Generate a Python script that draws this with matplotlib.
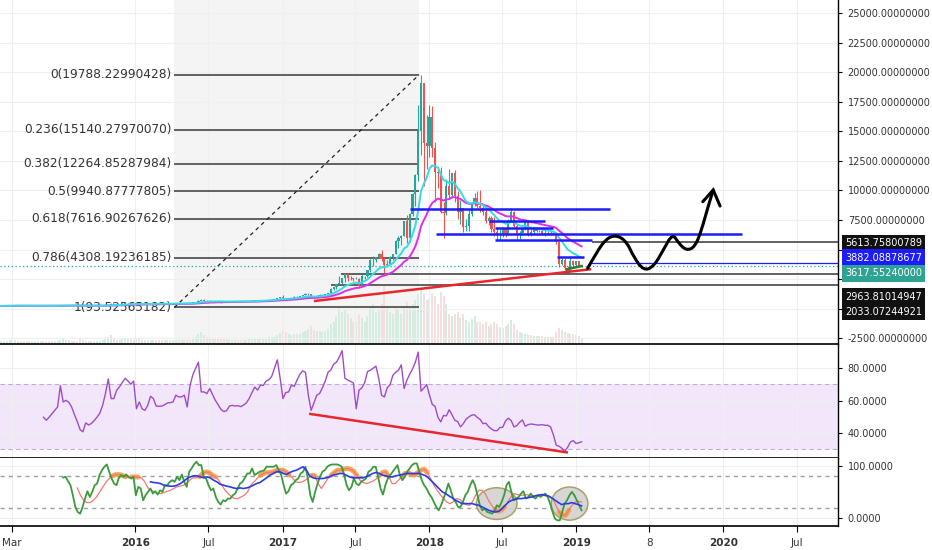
"""BTCUSD weekly chart with fib retracement, RSI and stochastic panes."""

import matplotlib

matplotlib.use("Agg")
import matplotlib.dates as mdates
import matplotlib.pyplot as plt
import matplotlib.transforms as mtransforms
import numpy as np
import pandas as pd
from matplotlib.patches import Ellipse, PathPatch
from matplotlib.path import Path

plt.rcParams["font.family"] = ["DejaVu Sans"]

# ---- weekly candles (week starting 2015-02-02) ----
FIRST_WEEK = "2015-02-02"
FIRST_OPEN = 221.0

closes = [
    # 2015
    227, 234, 237, 254, 276, 285, 260, 247, 254, 236, 222, 226, 234,
    241, 237, 240, 230, 226, 233, 245, 250, 270, 292, 279, 289, 284,
    266, 260, 228, 228, 240, 230, 231, 235, 240, 247, 262, 285, 325,
    380, 330, 325, 357, 390, 433, 460, 420, 430,
    # 2016
    448, 380, 392, 370, 375, 405, 440, 430, 412, 415, 410, 416, 420,
    420, 430, 460, 445, 458, 455, 440, 530, 580, 680, 760, 665, 680,
    650, 665, 660, 625, 590, 570, 580, 575, 605, 610, 608, 600, 615,
    618, 640, 655, 700, 705, 700, 730, 735, 765, 770, 790, 900, 1000,
    # 2017
    900, 830, 920, 920, 1020, 1000, 1050, 1180, 1230, 1240, 970, 960, 1090,
    1180, 1180, 1250, 1350, 1700, 1800, 2050, 2200, 2550, 2950, 2550, 2600, 2500,
    2500, 1900, 2750, 2750, 3250, 4100, 4100, 4350, 4600, 4200, 3700, 3800, 4400,
    4600, 5700, 6000, 6150, 7400, 5950, 8000, 9700, 11300, 15000, 19100, 14000, 13800,
    # 2018
    16200, 13600, 11600, 11500, 8200, 8100, 10400, 9600, 11500, 9500, 8200, 8500, 6900,
    7000, 8000, 8900, 9400, 8700, 8500, 8200, 7400, 7700, 6700, 6450, 6200, 6350,
    6750, 6350, 7400, 8200, 7000, 6300, 6400, 6700, 7300, 6250, 6500, 6700, 6600,
    6600, 6300, 6400, 6350, 6400, 6300, 5600, 3800, 4100, 3400, 3200, 4000, 3700, 4000,
    # 2019
    3550, 3617.5524,
]

highs = [
    240, 244, 245, 262, 300, 298, 290, 270, 262, 260, 240, 236, 240,
    246, 245, 246, 242, 232, 237, 252, 256, 275, 315, 300, 300, 296,
    290, 272, 268, 237, 242, 245, 240, 240, 244, 250, 264, 290, 330,
    500, 390, 340, 360, 390, 435, 470, 460, 437,
    460, 450, 400, 395, 385, 410, 445, 445, 441, 420, 418, 420, 425,
    424, 434, 463, 468, 466, 462, 458, 535, 580, 700, 780, 780, 705,
    705, 680, 685, 666, 625, 600, 590, 590, 606, 625, 614, 611, 619,
    621, 645, 660, 700, 740, 745, 740, 750, 765, 777, 792, 905, 1000,
    1150, 915, 925, 940, 1025, 1030, 1060, 1190, 1280, 1290, 1240, 1060, 1095,
    1200, 1205, 1255, 1355, 1750, 1830, 2100, 2800, 2600, 3000, 3000, 2780, 2620,
    2660, 2590, 2900, 2790, 3300, 4200, 4485, 4380, 4740, 4975, 4380, 4125, 4470,
    4600, 5850, 6150, 6200, 7450, 7900, 8100, 9750, 11400, 17200, 19788, 19100, 16400,
    17250, 17150, 14100, 12000, 12000, 9000, 10950, 11800, 11500, 11700, 9950, 9200, 8500,
    7550, 8400, 9000, 9750, 9950, 10000, 8880, 8450, 7800, 7800, 7750, 6850, 6700,
    6800, 6800, 7600, 8500, 8300, 7150, 6600, 6700, 7400, 7400, 6700, 6800, 6820,
    6650, 6670, 6800, 6550, 6550, 6490, 6390, 5600, 4250, 4280, 3600, 4330, 4150, 4060,
    4070, 3720,
]

lows = [
    216, 218, 228, 235, 252, 265, 255, 240, 242, 232, 218, 220, 224,
    232, 233, 232, 228, 222, 224, 230, 242, 248, 262, 262, 270, 282,
    262, 256, 200, 210, 226, 228, 227, 228, 233, 237, 245, 260, 282,
    322, 300, 315, 322, 355, 380, 430, 410, 418,
    425, 365, 370, 365, 365, 370, 405, 425, 410, 405, 405, 406, 410,
    414, 418, 426, 443, 444, 448, 436, 438, 527, 570, 670, 555, 610,
    632, 640, 654, 620, 480, 565, 566, 570, 572, 600, 604, 592, 595,
    608, 612, 633, 650, 690, 680, 694, 728, 728, 757, 763, 790, 890,
    760, 760, 830, 880, 905, 980, 990, 1040, 1170, 1150, 950, 895, 930,
    1080, 1145, 1170, 1245, 1340, 1580, 1700, 2060, 2090, 2280, 2300, 2400, 2340,
    2480, 1840, 1900, 2490, 2660, 3100, 3600, 3970, 4300, 4050, 3000, 3560, 3760,
    4150, 4600, 5150, 5350, 6150, 5550, 5650, 7800, 8650, 10800, 13000, 10400, 11800,
    12850, 12800, 9000, 10200, 8100, 5950, 7900, 9300, 9400, 9000, 7600, 7200, 6450,
    6550, 6600, 7820, 8650, 8500, 8200, 7950, 7250, 7050, 6500, 6150, 5800, 5800,
    6100, 6100, 6250, 7400, 6900, 5880, 5880, 6250, 6670, 6150, 6170, 6270, 6450,
    6480, 6200, 6170, 6300, 6250, 6300, 5450, 3550, 3700, 3260, 3150, 3200, 3550, 3630,
    3500, 3530,
]

volumes = [
    3, 3, 3, 4, 4, 4, 3, 3, 3, 3, 3, 3, 3, 3, 3, 3, 3, 3, 3, 3, 3, 4,
    5, 4, 4, 3, 3, 3, 5, 4, 3, 3, 3, 3, 3, 3, 4, 5, 7, 9, 6, 4, 4, 5, 6, 6, 5, 4,
    6, 5, 4, 4, 4, 4, 4, 4, 4, 4, 4, 4, 4, 4, 4, 4, 4, 4, 4, 4, 6, 7,
    10, 12, 9, 7, 6, 6, 5, 5, 6, 5, 5, 4, 4, 4, 4, 4, 4, 4, 5, 6, 6, 6,
    6, 6, 6, 7, 7, 7, 9, 11,
    14, 12, 10, 9, 10, 10, 10, 12, 13, 15, 18, 14, 13, 13, 12, 13, 15,
    20, 22, 28, 38, 32, 35, 30, 26, 22, 22, 30, 26, 22, 28, 38, 40, 32, 34,
    40, 60, 38, 32, 30, 36, 34, 30, 38, 42, 36, 40, 44, 50, 56, 50, 44,
    45, 50, 48, 40, 52, 48, 40, 30, 28, 30, 32, 26, 30, 24, 22, 25, 28, 22,
    22, 20, 22, 18, 20, 22, 20, 17, 16, 18, 20, 24, 20, 14, 12, 11, 10,
    9, 9, 8, 8, 8, 8, 7, 7, 7, 7, 12, 16, 14, 12, 11, 10, 10, 9,
    8, 6,
]
VOL_AXIS_TOP = 344

# ---- RSI (weekly, aligned to the last candles) ----
rsi = [
    49.8, 47.9, 49.8, 51.9, 54.0, 56.1, 69.2, 59.2, 60.2, 59.0,
    56.1, 51.3, 47.1, 42.1, 40.8, 46.3, 45.0, 45.9, 47.7, 49.8,
    52.3, 57.1, 64.4, 73.4, 61.3, 61.3, 66.5, 68.6, 71.3, 73.8,
    72.1, 70.2, 72.1, 55.0, 59.2, 55.0, 54.0, 57.1, 62.7, 61.3,
    56.7, 56.5, 56.7, 57.5, 58.6, 58.8, 59.2, 63.4, 62.3, 62.3,
    63.4, 56.1, 69.2, 75.9, 80.0, 83.8, 65.4, 65.4, 64.4, 67.5,
    63.8, 60.2, 57.5, 54.6, 53.3, 53.8, 56.7, 57.1, 56.7, 56.9,
    56.3, 57.3, 58.6, 61.3, 65.0, 68.4, 66.5, 69.6, 69.4, 72.1,
    72.9, 75.0, 80.0, 85.2, 73.8, 61.3, 65.0, 65.4, 69.6, 68.8,
    72.7, 76.3, 78.4, 77.5, 63.4, 54.0, 58.8, 63.4, 64.4, 67.9,
    72.1, 77.5,
    79.0, 82.5, 83.8, 86.9, 90.9, 73.8, 72.7, 71.9, 70.9, 55.0,
    66.5, 67.9, 71.1, 77.9, 78.8, 80.0, 81.3, 73.8, 63.4, 62.3,
    67.9, 69.8, 75.6, 77.5, 78.8, 82.1, 67.5, 72.7, 76.3, 79.6,
    83.8, 90.0, 65.9, 67.7, 70.0, 63.4, 57.7, 56.5, 49.8, 46.9,
    50.9, 50.6, 54.4, 51.3, 47.9, 47.1, 43.8, 45.8, 48.6, 50.0,
    51.1, 51.3, 49.6, 48.4, 45.8, 46.1, 44.0, 42.5, 41.5, 41.5,
    43.4, 43.6, 47.5, 49.2, 47.7, 43.8, 44.6, 46.7, 48.1, 44.2,
    45.2, 45.6, 45.4, 45.0, 45.0, 45.2, 44.8, 44.8, 43.8, 38.8,
    32.5, 31.9, 30.6, 28.8, 31.1, 34.4, 35.4, 33.6, 34.0, 34.6,
]

# ---- stochastic lines, evenly spaced from their start date to the last week ----
K_START = "2015-07-06"
D_START = "2015-08-10"
SLOW_START = "2016-02-08"

stoch_k = [
    78.0, 79.3, 71.0, 63.2, 43.9, 21.3, 11.6, 8.4, 21.3, 37.4, 51.6, 40.6,
    50.3, 63.2, 66.4, 82.6, 92.2, 98.7, 103.2, 89.0, 76.1, 66.4, 63.2, 77.4,
    82.5, 79.3, 83.8, 79.3, 76.1, 79.3, 43.9, 60.0, 56.8, 34.2, 43.9, 50.3,
    56.8, 47.1, 51.6, 45.1, 53.5, 50.3, 63.2, 63.2, 69.7, 72.9, 69.7, 79.3,
    72.9, 83.8, 69.7, 60.0, 89.0, 95.5, 103.2, 108.4, 101.9, 101.9, 79.3, 76.1,
    63.2, 53.5, 56.8, 40.6, 31.0, 25.8, 34.2, 32.2, 37.4, 37.4, 43.9, 47.1,
    56.8, 66.4, 69.7, 77.4, 85.8, 85.8, 95.5, 82.6, 85.8, 89.0, 90.3, 92.2,
    99.3, 98.7, 98.7, 98.7, 101.9, 92.2, 82.6, 63.2, 47.1, 51.6, 63.2, 66.4,
    72.9, 76.1, 85.8, 89.0, 98.7, 76.1, 43.9, 31.0, 50.3, 66.4, 79.3, 89.0,
    92.2, 98.7, 101.9,
    103.2, 103.2, 103.2, 101.9, 98.7, 82.6, 63.2, 53.5, 60.0, 76.1, 66.4, 63.2,
    69.7, 72.9, 76.1, 89.0, 92.2, 98.7, 98.7, 79.3, 56.8, 45.1, 63.2, 76.1,
    82.6, 89.0, 95.5, 101.9, 82.6, 72.9, 79.3, 89.0, 95.5, 101.9, 105.1, 105.1,
    89.0, 72.9, 63.2, 56.8, 47.1, 40.6, 31.0, 21.3, 14.8, 24.5, 37.4, 50.3,
    66.4, 53.5, 37.4, 31.0, 21.3, 21.3, 31.0, 43.9, 50.3, 63.2, 72.9, 63.2,
    43.9, 24.5, 14.8, 18.1, 11.6, 10.3, 8.4, 12.9, 24.5, 21.3, 31.0, 43.9,
    63.2, 69.7, 50.3, 34.2, 37.4, 40.6, 47.1, 51.6, 37.4, 40.6, 47.1, 40.6,
    37.4, 43.9, 40.6, 43.9, 47.1, 40.6, 27.7, 11.6, -1.3, -4.5, -4.5, 11.6,
    27.7, 34.2, 43.9, 50.3, 43.9, 34.2, 24.5, 14.8,
]

stoch_d = [
    58.0, 43.9, 34.2, 29.7, 29.7, 34.2, 40.6, 50.3, 60.0, 69.7, 76.1, 81.3,
    83.8, 83.8, 82.5, 79.3, 77.4, 79.3, 79.3, 78.7, 77.4, 69.7, 58.0, 53.5,
    50.3, 47.1, 47.1, 49.0, 51.6, 53.5, 56.8, 60.0, 61.3, 63.2, 66.4, 72.9,
    77.4, 77.4, 79.3, 85.8, 89.0, 87.7, 82.5, 79.3, 72.9, 63.2, 53.5, 47.1,
    40.6, 37.4, 37.4, 40.6, 43.9, 50.3, 63.2, 69.7, 76.1, 82.5, 85.8, 87.7,
    87.7, 89.0, 92.2, 92.2, 92.2, 89.0, 82.5, 77.4, 69.7, 68.4, 69.7, 72.9,
    77.4, 82.5, 81.3, 66.4, 56.8, 66.4, 76.1, 82.5, 87.7, 92.2,
    92.2, 94.2, 95.5, 94.2, 90.3, 82.5, 72.9, 68.4, 66.4, 68.4, 71.0, 74.8,
    81.3, 87.7, 89.0, 79.3, 66.4, 66.4, 72.9, 79.3, 85.8, 87.7, 83.8, 82.5,
    87.7, 92.2, 94.2, 87.7, 76.1, 63.2, 53.5, 45.1, 37.4, 31.0, 27.7, 31.0,
    37.4, 36.1, 31.0, 25.8, 24.5, 31.0, 43.9, 53.5, 53.5, 47.1, 34.2, 24.5,
    16.8, 12.9, 14.8, 21.3, 31.0, 40.6, 47.1, 45.1, 43.9, 43.9, 45.1, 42.6,
    42.6, 43.9, 43.9, 43.9, 42.6, 40.6, 37.4, 24.5, 11.6, 5.2, 5.2, 14.8,
    24.5, 31.0, 32.2, 31.0,
]

stoch_slow = [
    69.7, 68.4, 67.7, 66.4, 63.2, 61.9, 61.3, 61.3, 63.2, 66.4, 70.9, 76.1,
    79.3, 81.3, 81.3, 79.3, 77.4, 79.3, 77.4, 72.9, 69.7, 65.1, 63.2, 61.3,
    60.0, 58.0, 56.8, 58.0, 56.8, 58.0, 60.0, 63.2, 66.4, 68.4, 72.9, 77.4,
    82.5, 85.8, 89.0, 89.0, 85.8, 83.8, 87.7, 90.3, 92.2, 95.5, 98.7, 92.2,
    81.3, 77.4, 76.1, 76.1, 76.1, 77.4, 79.3,
    82.5, 83.8, 85.8, 85.8, 82.5, 79.3, 77.4, 77.4, 77.4, 77.4, 79.3, 82.5,
    85.8, 87.7, 85.8, 82.5, 81.3, 79.3, 79.3, 81.3, 82.5, 83.8, 85.8, 85.8,
    85.8, 85.8, 85.8, 83.8, 81.3, 76.1, 69.7, 63.2, 56.8, 50.3, 47.1, 42.6,
    38.7, 34.2, 31.0, 27.7, 27.7, 27.7, 27.7, 25.8, 24.5, 21.3, 18.1, 14.8,
    12.9, 11.6, 12.9, 18.1, 24.5, 31.0, 34.2, 36.1, 37.4, 37.4, 38.7, 39.3,
    40.6, 42.6, 43.9, 45.1, 43.9, 42.6, 38.7, 34.2, 29.7, 25.8, 27.7, 27.7,
    29.7, 27.7, 25.8, 23.2,
]

# ---- drawings ----
fib_names = ["0", "0.236", "0.382", "0.5", "0.618", "0.786", "1"]
fib_prices = [19788.22990428, 15140.27970070, 12264.85287984, 9940.87777805,
              7616.90267626, 4308.19236185, 93.52565182]
FIB_FROM, FIB_TO = "2016-04-07", "2017-12-06"

blue_prices = [8458, 7416, 6849, 6316, 5782, 4368]
blue_from = ["2017-11-14", "2018-05-29", "2018-06-13", "2018-01-17", "2018-06-13", "2018-11-14"]
blue_to = ["2019-03-26", "2018-10-16", "2018-11-05", "2020-02-17", "2019-02-09", "2019-01-20"]

gray_prices = [5613.75800789, 2963.81014947, 2033.07244921]
gray_from = ["2019-02-09", "2017-05-27", "2017-05-02"]
LAST_PRICE = 3617.5524
BLUE_THIN = 3882.08878677
BLUE_THIN_FROM = "2019-02-04"

trend_main = [("2017-03-23", 650), ("2019-02-04", 3327)]
trend_green = [("2018-12-08", 3327), ("2019-01-14", 3606)]
trend_rsi = [("2017-03-11", 51.8), ("2018-12-08", 28.1)]

forecast = [
    ("2019-01-29", 3412), ("2019-02-21", 4817), ("2019-03-17", 5952),
    ("2019-04-11", 6231), ("2019-05-06", 5664), ("2019-05-23", 4394),
    ("2019-06-17", 3209), ("2019-07-12", 3547), ("2019-08-05", 4961),
    ("2019-08-28", 6375), ("2019-09-12", 5528), ("2019-10-02", 4902),
    ("2019-10-23", 5240), ("2019-11-08", 6654), ("2019-11-24", 8627),
    ("2019-12-07", 10041),
]
arrow_head = [("2019-11-11", 9050), ("2019-12-07", 10041), ("2019-12-24", 8686)]

stoch_circles = [("2018-06-17", 27.8, 101, 61), ("2018-12-15", 27.8, 91, 64)]

side_labels = ["5613.75800789", "3882.08878677", "3617.55240000",
               "2963.81014947", "2033.07244921"]
side_label_pos = [5530, 4310, 2990, 1010, -260]
side_label_colors = ["#111111", "#1c1cff", "#2fa393", "#111111", "#111111"]

x_tick_dates = ["2015-03-01", "2016-01-01", "2016-07-01", "2017-01-01", "2017-07-01",
                "2018-01-01", "2018-07-01", "2019-01-01", "2019-07-01", "2020-01-01",
                "2020-07-01"]
x_tick_labels = ["Mar", "2016", "Jul", "2017", "Jul", "2018", "Jul", "2019", "8", "2020", "Jul"]

GREEN = "#26a69a"
RED = "#ef5350"
TXT = "#333333"


def d(s):
    return mdates.date2num(pd.Timestamp(s))


def dates_between(start, end, n):
    return mdates.date2num(pd.date_range(start, end, periods=n).to_pydatetime())


weeks = pd.date_range(FIRST_WEEK, periods=len(closes), freq="7D")
xs = mdates.date2num(weeks.to_pydatetime())
c = np.array(closes, dtype=float)
o = np.array([FIRST_OPEN] + closes[:-1], dtype=float)
h = np.array(highs, dtype=float)
lo = np.array(lows, dtype=float)
up = c >= o
colors = np.where(up, GREEN, RED)

ema_fast = pd.Series(c).ewm(span=12, adjust=False).mean()
ema_slow = pd.Series(c).ewm(span=26, adjust=False).mean()

fig = plt.figure(figsize=(9.32, 5.5), dpi=100)
RIGHT = 838 / 932
ax = fig.add_axes([0, 1 - 344.3 / 550, RIGHT, 344.3 / 550])
ax_rsi = fig.add_axes([0, 1 - 457.7 / 550, RIGHT, 113.4 / 550], sharex=ax)
ax_st = fig.add_axes([0, 1 - 526 / 550, RIGHT, 68.3 / 550], sharex=ax)

# ---- volume behind the price (twin axis first, it resets the tick side) ----
ax_vol = ax.twinx()
ax.set_zorder(ax_vol.get_zorder() + 1)
ax.patch.set_visible(False)
ax_vol.set_ylim(0, VOL_AXIS_TOP)
ax_vol.set_yticks([])
for s in ax_vol.spines.values():
    s.set_visible(False)
ax_vol.axvspan(d(FIB_FROM), d(FIB_TO), color="#f4f4f4", lw=0, zorder=0)
ax_vol.bar(xs, volumes, width=5, color=np.where(up, "#d5ece0", "#f6dede"), lw=0, zorder=1)

XMIN, XMAX = d("2015-01-30"), d("2020-10-12")
ax.set_xlim(XMIN, XMAX)

tick_x = [d(t) for t in x_tick_dates]
for a in (ax, ax_rsi, ax_st):
    a.set_xticks(tick_x)
    a.grid(True, color="#efefef", lw=0.8)
    a.set_axisbelow(True)
    for side in ("left", "top", "bottom"):
        a.spines[side].set_visible(False)
    a.spines["right"].set_visible(True)
    a.spines["right"].set_color("black")
    a.spines["right"].set_linewidth(1)
    a.yaxis.tick_right()
    a.yaxis.set_label_position("right")
    a.tick_params(axis="y", direction="out", length=3, width=0.8, colors="black",
                  labelsize=7, labelcolor=TXT, pad=4, left=False, labelleft=False,
                  right=True, labelright=True)
for a in (ax, ax_rsi):
    a.tick_params(axis="x", bottom=False, labelbottom=False)
for a in (ax, ax_rsi, ax_st):
    a.spines["bottom"].set_visible(True)
    a.spines["bottom"].set_linewidth(1.2)
    a.spines["bottom"].set_color("black")

# ---- main price pane ----
ax.set_ylim(-3022, 26126)
yt = np.arange(-2500, 25001, 2500)
ax.set_yticks(yt)
ax.set_yticklabels(["" if v in (0, 2500, 5000) else f"{v:.8f}" for v in yt])

# fib retracement
ax.hlines(fib_prices, d(FIB_FROM), d(FIB_TO), color="#555555", lw=1.3, zorder=2)
for name, p in zip(fib_names, fib_prices):
    ax.annotate(f"{name}({p:.8f})", (d(FIB_FROM), p), xytext=(-2, 0),
                textcoords="offset points", ha="right", va="center",
                fontsize=8.7, color=TXT)
ax.plot([d(FIB_FROM), d(FIB_TO)], [fib_prices[-1], fib_prices[0]], color="#222222",
        lw=0.9, ls=(0, (3, 3)), zorder=2)

# horizontal levels
for p, start in zip(gray_prices, gray_from):
    ax.hlines(p, d(start), XMAX, color="#555555", lw=1.3, zorder=2)
ax.axhline(LAST_PRICE, color=GREEN, lw=0.9, ls=(0, (1, 2)), zorder=2)
ax.hlines(BLUE_THIN, d(BLUE_THIN_FROM), XMAX, color="#1c1cff", lw=0.9, zorder=2)

# candles
ax.vlines(xs, lo, h, colors=colors, lw=0.8, zorder=3)
ax.bar(xs, np.abs(c - o), bottom=np.minimum(o, c), width=5.5, color=colors, lw=0, zorder=3)

ax.plot(xs, ema_slow, color="#e02ee6", lw=1.4, zorder=4)
ax.plot(xs, ema_fast, color="#35dbe8", lw=1.4, zorder=4.5)

for p, start, end in zip(blue_prices, blue_from, blue_to):
    ax.hlines(p, d(start), d(end), color="#1c1cff", lw=1.8, zorder=5)

(a0, p0), (a1, p1) = trend_main
ax.plot([d(a0), d(a1)], [p0, p1], color="#e8262c", lw=1.8, zorder=5)
(a0, p0), (a1, p1) = trend_green
ax.plot([d(a0), d(a1)], [p0, p1], color="#2e7d32", lw=1.8, zorder=6)

# hand-drawn forecast curve (quadratic spline through the drawn points)
pts = np.array([(d(t), p) for t, p in forecast])
verts = [pts[0]]
codes = [Path.MOVETO]
for i in range(1, len(pts) - 1):
    end = pts[i + 1] if i == len(pts) - 2 else (pts[i] + pts[i + 1]) / 2
    verts += [pts[i], end]
    codes += [Path.CURVE3, Path.CURVE3]
ax.add_patch(PathPatch(Path(verts, codes), fill=False, ec="black", lw=2.2,
                       capstyle="round", zorder=6))
ax.plot([d(t) for t, _ in arrow_head], [p for _, p in arrow_head], color="black",
        lw=2.2, solid_capstyle="round", solid_joinstyle="miter", zorder=6)

# price tags on the scale
blend = mtransforms.blended_transform_factory(ax.transAxes, ax.transData)
for txt, pos, col in zip(side_labels, side_label_pos, side_label_colors):
    ax.annotate(txt, (1, pos), xycoords=blend, xytext=(5, 0), textcoords="offset points",
                ha="left", va="center", fontsize=7, color="white", annotation_clip=False,
                bbox=dict(boxstyle="square,pad=0.35", fc=col, ec="none"), zorder=10)

# ---- RSI pane ----
ax_rsi.set_ylim(24.8, 94.8)
ax_rsi.set_yticks([40, 60, 80])
ax_rsi.set_yticklabels(["40.0000", "60.0000", "80.0000"])
ax_rsi.axhspan(30, 70, color="#f2e6fb", lw=0, zorder=0)
for lvl in (30, 70):
    ax_rsi.axhline(lvl, color="#bcaed0", lw=0.8, ls=(0, (4, 3)), zorder=1)
ax_rsi.plot(xs[-len(rsi):], rsi, color="#a04cc6", lw=1.0, zorder=3)
(a0, r0), (a1, r1) = trend_rsi
ax_rsi.plot([d(a0), d(a1)], [r0, r1], color="#e8262c", lw=1.8, zorder=4)

# ---- stochastic pane ----
ax_st.set_ylim(-15.4, 116.2)
ax_st.set_yticks([0, 100])
ax_st.set_yticklabels(["0.0000", "100.0000"])
for lvl in (20, 80):
    ax_st.axhline(lvl, color="#9e9e9e", lw=1, ls=(0, (3, 3)), zorder=1)
for t, v, w, ht in stoch_circles:
    ax_st.add_patch(Ellipse((d(t), v), w, ht, fc="#d2d2d2", ec="#a39a55", lw=1.1,
                            alpha=0.9, zorder=2))

xd = dates_between(D_START, weeks[-1], len(stoch_d))
d_arr = np.array(stoch_d)
hot = np.where((d_arr >= 78) | (d_arr <= 22), d_arr, np.nan)
ax_st.plot(xd, hot, color="#f59a3c", lw=3.5, alpha=0.85, solid_capstyle="round", zorder=3)
ax_st.plot(xd, d_arr, color="#f07a72", lw=0.9, zorder=4)
ax_st.plot(dates_between(K_START, weeks[-1], len(stoch_k)), stoch_k,
           color="#3c9a3c", lw=1.3, zorder=5)
ax_st.plot(dates_between(SLOW_START, weeks[-1], len(stoch_slow)), stoch_slow,
           color="#2b3de0", lw=1.2, zorder=6)

ax_st.tick_params(axis="x", direction="out", length=4, width=0.8, colors="black",
                  labelsize=7.5, labelcolor=TXT, pad=5)
ax_st.set_xticklabels(x_tick_labels)
for lab in ax_st.get_xticklabels():
    if lab.get_text().isdigit() and len(lab.get_text()) == 4:
        lab.set_fontweight("bold")

ax.set_xlim(XMIN, XMAX)
fig.savefig("out.png", dpi=100)
